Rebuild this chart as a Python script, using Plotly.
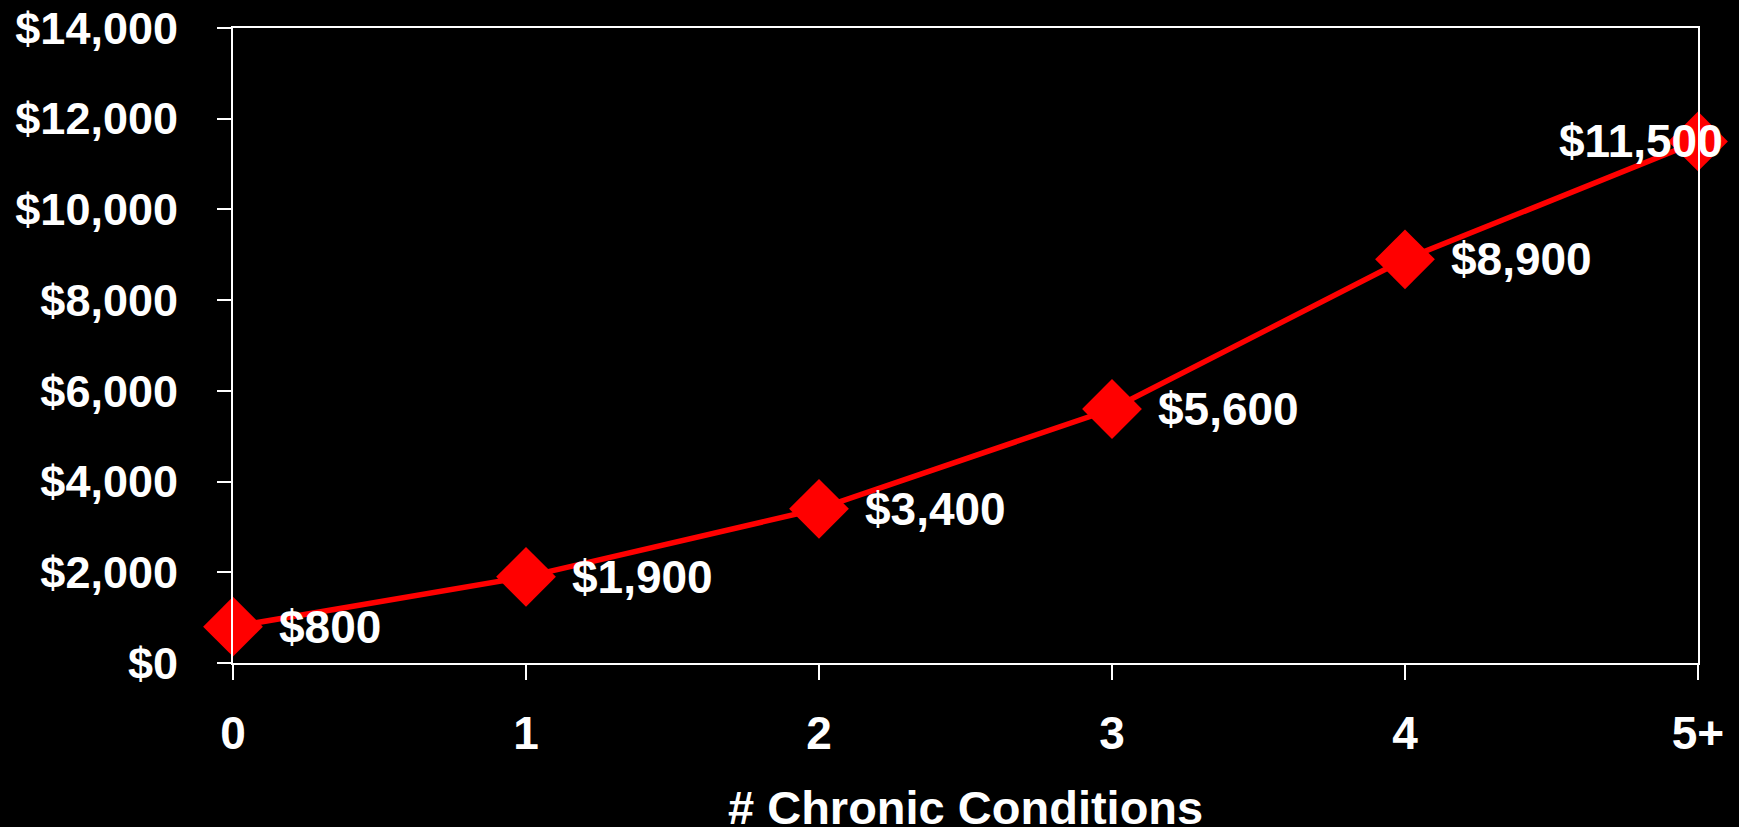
import plotly.graph_objects as go

# Average annual cost by number of chronic conditions
categories = ["0", "1", "2", "3", "4", "5+"]
costs = [800, 1900, 3400, 5600, 8900, 11500]
y_ticks = [0, 2000, 4000, 6000, 8000, 10000, 12000, 14000]
y_tick_labels = [f"${v:,}" for v in y_ticks]
x_title = "# Chronic Conditions"

x_pos = list(range(len(categories)))
FONT = "Liberation Sans, Arial, sans-serif"
RED = "#FF0000"
TXT = 46

fig = go.Figure()
fig.add_trace(go.Scatter(
    x=x_pos,
    y=costs,
    mode="lines+markers",
    line=dict(color=RED, width=5.5),
    marker=dict(symbol="diamond", size=46, color=RED, line=dict(width=0)),
    cliponaxis=False,
    hoverinfo="skip",
))

# value labels sit to the right of each marker; the last one overlaps its marker
annotations = []
for i, v in enumerate(costs):
    last = i == len(costs) - 1
    annotations.append(dict(
        x=x_pos[i], y=v, xref="x", yref="y",
        text=f"${v:,}",
        showarrow=False,
        xanchor="right" if last else "left",
        yanchor="middle",
        xshift=27 if last else 44,
        font=dict(family=FONT, size=TXT, color="white", weight="bold"),
    ))

# x-axis title placed below the tick labels
annotations.append(dict(
    x=0.5, y=0, xref="paper", yref="paper",
    text=x_title, showarrow=False,
    xanchor="center", yanchor="middle", yshift=-144,
    font=dict(family=FONT, size=47, color="white", weight="bold"),
))

fig.update_layout(
    width=1739, height=827,
    paper_bgcolor="black", plot_bgcolor="black",
    margin=dict(l=233, r=41, t=28, b=164),
    showlegend=False,
    annotations=annotations,
    font=dict(family=FONT, size=TXT, color="white", weight="bold"),
)

fig.update_xaxes(
    range=[0, 5],
    tickmode="array", tickvals=x_pos, ticktext=categories,
    showgrid=False, zeroline=False, automargin=False,
    showline=True, linecolor="white", linewidth=2, mirror=True,
    ticks="outside", ticklen=15, tickwidth=2, tickcolor="white",
    ticklabelstandoff=14,
    tickfont=dict(family=FONT, size=TXT, color="white", weight="bold"),
)

fig.update_yaxes(
    range=[0, 14000],
    tickmode="array", tickvals=y_ticks, ticktext=y_tick_labels,
    showgrid=False, zeroline=False, automargin=False,
    showline=True, linecolor="white", linewidth=2, mirror=True,
    ticks="outside", ticklen=14, tickwidth=2, tickcolor="white",
    ticklabelstandoff=30,
    tickfont=dict(family=FONT, size=45, color="white", weight="bold"),
)

fig.write_html("out.html")
